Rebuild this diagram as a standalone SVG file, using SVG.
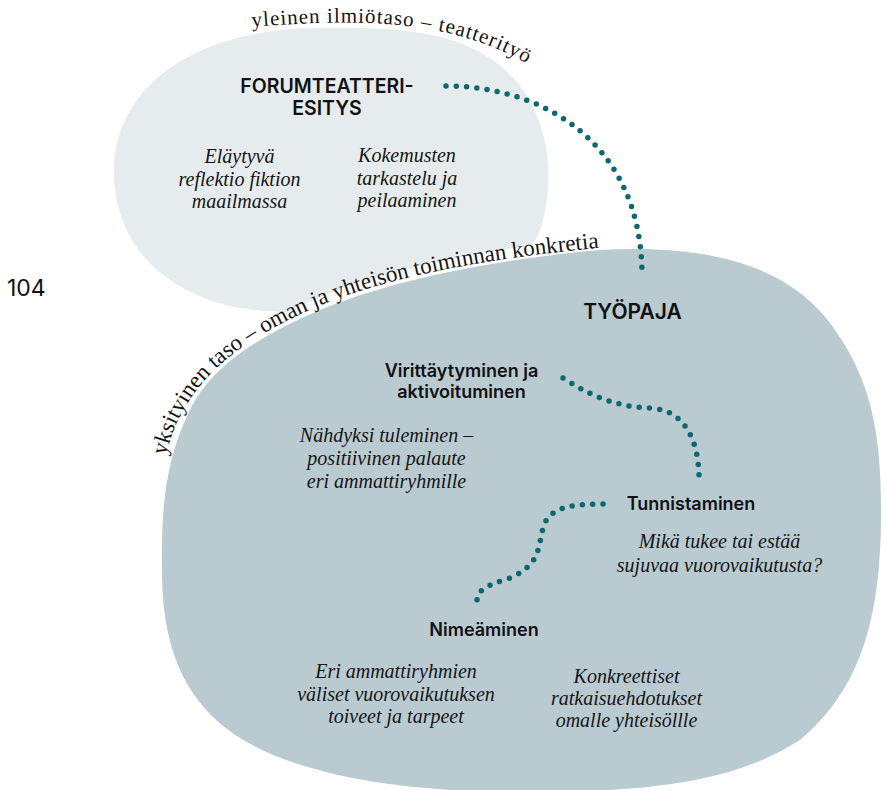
<svg xmlns="http://www.w3.org/2000/svg" width="885" height="790" viewBox="0 0 885 790">
  <style>
    .bg { fill: #ffffff; }
    .blob-light { fill: #e6ebed; }
    .blob-main { fill: #b9cad1; stroke: #ffffff; stroke-width: 24; paint-order: stroke fill; }
    .h { font-family: Inter, "Liberation Sans", sans-serif; font-weight: 600; fill: #111111; text-anchor: middle; }
    .h1 { font-size: 19.5px; }
    .h2 { font-size: 21px; }
    .h3 { font-size: 18px; }
    .it { font-family: "Liberation Serif", serif; font-style: italic; font-size: 20px; fill: #151515; text-anchor: middle; }
    .arc { font-family: "Liberation Serif", serif; fill: #151515; }
    .page { font-family: Inter, "Liberation Sans", sans-serif; font-size: 23px; fill: #111111; }
    .dots { fill: none; stroke: #0b6770; stroke-width: 5.5; stroke-linecap: round; stroke-dasharray: 0 10.3; }
  </style>
  <defs>
    <path id="arcTop" d="M 252,27 C 360,18 460,18 540,72"/>
    <path id="arcSide" d="M 166,456 C 171,434 177,420 186,406 C 208,368 248,337 316,307 C 376,282 466,259 620,246"/>
  </defs>

  <rect class="bg" x="0" y="0" width="885" height="790"/>

  <g id="forumteatteri-region">
    <path class="blob-light" d="M 114,175 C 112,90 190,30 314,28 C 400,27 470,30 515,80 C 550,120 556,180 540,230 C 520,285 440,295 380,306 C 330,314 285,314 240,308 C 170,295 116,250 114,175 Z"/>
  </g>

  <g id="tyopaja-region">
    <path class="blob-main" d="M 600,250 C 700,244 790,262 835,330 C 870,380 882,430 881,520 C 880,620 860,690 800,740 C 730,785 640,792 520,792 C 400,792 300,775 240,738 C 180,700 162,640 162,570 C 161,510 165,460 190,410 C 210,370 250,340 320,310 C 380,285 470,262 600,250 Z"/>
  </g>

  <g id="level-labels">
    <text class="arc" font-size="21" letter-spacing="1"><textPath href="#arcTop">yleinen ilmiötaso – teatterityö</textPath></text>
    <text class="arc" font-size="23"><textPath href="#arcSide">yksityinen taso – oman ja yhteisön toiminnan konkretia</textPath></text>
  </g>

  <g id="page-number">
    <text class="page" x="7" y="296">104</text>
  </g>

  <g id="connectors">
    <path class="dots" d="M 446,86 C 540,86 640,140 642,272"/>
    <path class="dots" d="M 563,378 C 600,402 625,407 650,408 C 685,410 698,440 699,475"/>
    <path class="dots" d="M 603,504 C 570,504 548,508 543,528 C 538,548 540,565 510,578 C 490,585 476,588 477,603"/>
  </g>

  <g id="node-forumteatteriesitys">
    <text class="h h1" x="327" y="93">FORUMTEATTERI-</text>
    <text class="h h1" x="327" y="115">ESITYS</text>
  </g>

  <g id="node-elaytyva">
    <text class="it" x="239.5" y="163">Eläytyvä</text>
    <text class="it" x="239.5" y="185.5">reflektio fiktion</text>
    <text class="it" x="239.5" y="208">maailmassa</text>
  </g>

  <g id="node-kokemusten">
    <text class="it" x="407" y="162">Kokemusten</text>
    <text class="it" x="407" y="184.5">tarkastelu ja</text>
    <text class="it" x="407" y="207">peilaaminen</text>
  </g>

  <g id="node-tyopaja">
    <text class="h h2" x="632.5" y="319">TYÖPAJA</text>
  </g>

  <g id="node-virittaytyminen">
    <text class="h h3" x="461.5" y="376.5">Virittäytyminen ja</text>
    <text class="h h3" x="461.5" y="398">aktivoituminen</text>
  </g>

  <g id="node-nahdyksi">
    <text class="it" x="386.5" y="442">Nähdyksi tuleminen –</text>
    <text class="it" x="386.5" y="465">positiivinen palaute</text>
    <text class="it" x="386.5" y="487.5">eri ammattiryhmille</text>
  </g>

  <g id="node-tunnistaminen">
    <text class="h h3" x="691" y="510">Tunnistaminen</text>
  </g>

  <g id="node-mika">
    <text class="it" x="719.5" y="548">Mikä tukee tai estää</text>
    <text class="it" x="719.5" y="571.5">sujuvaa vuorovaikutusta?</text>
  </g>

  <g id="node-nimeaminen">
    <text class="h h3" x="484" y="636">Nimeäminen</text>
  </g>

  <g id="node-eri">
    <text class="it" x="396" y="678">Eri ammattiryhmien</text>
    <text class="it" x="396" y="700.5">väliset vuorovaikutuksen</text>
    <text class="it" x="396" y="723">toiveet ja tarpeet</text>
  </g>

  <g id="node-konkreettiset">
    <text class="it" x="626.5" y="683">Konkreettiset</text>
    <text class="it" x="626.5" y="705">ratkaisuehdotukset</text>
    <text class="it" x="626.5" y="727">omalle yhteisöllle</text>
  </g>
</svg>
